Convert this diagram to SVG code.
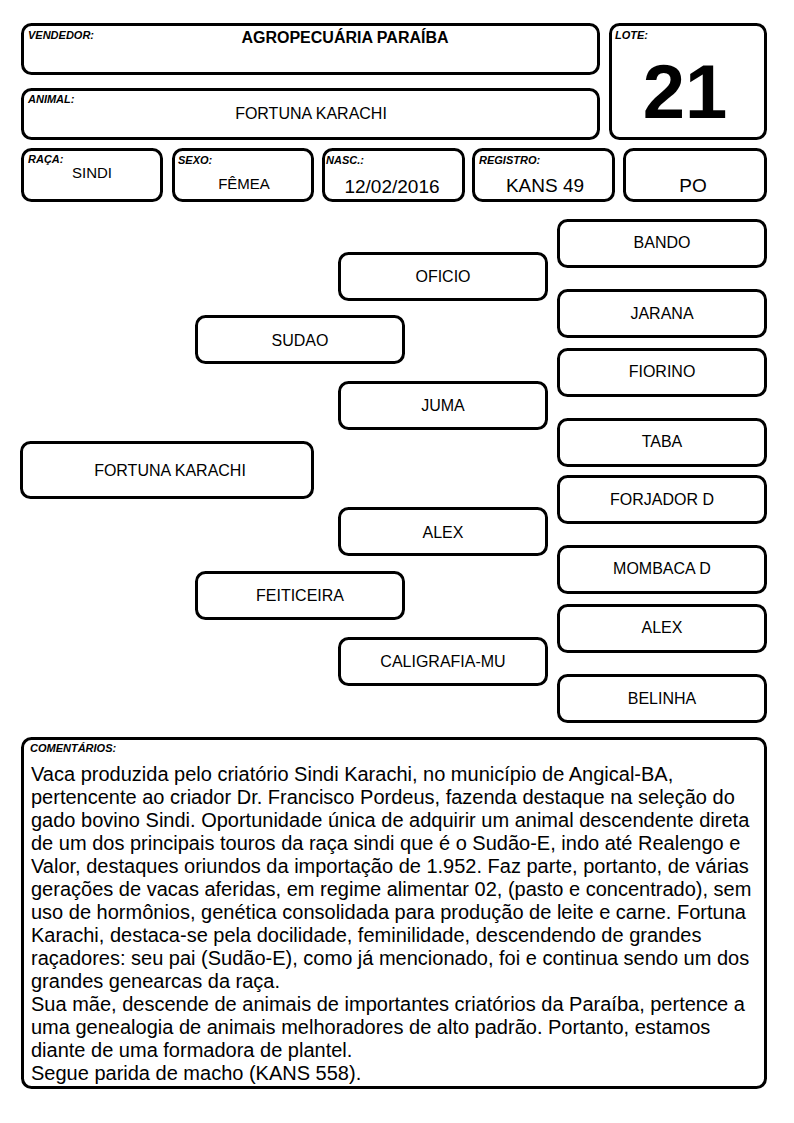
<svg xmlns="http://www.w3.org/2000/svg" width="794" height="1123" viewBox="0 0 794 1123">
<style>
  .box { fill: #ffffff; stroke: #000000; stroke-width: 3; }
  .lbl { font-family: "Liberation Sans", Arial, sans-serif; font-size: 11px; font-weight: bold; font-style: italic; fill: #000; }
  .val { font-family: "Liberation Sans", Arial, sans-serif; font-size: 16px; fill: #000; text-anchor: middle; }
  .val19 { font-family: "Liberation Sans", Arial, sans-serif; font-size: 19px; fill: #000; text-anchor: middle; }
  .ped { font-family: "Liberation Sans", Arial, sans-serif; font-size: 16px; fill: #000; text-anchor: middle; }
  .com { font-family: "Liberation Sans", Arial, sans-serif; font-size: 20px; fill: #000; }
</style>
<rect x="0" y="0" width="794" height="1123" fill="#ffffff"/>

<g id="vendedor">
  <rect class="box" x="22.5" y="24.5" width="576" height="49" rx="9"/>
  <text class="lbl" x="28" y="39">VENDEDOR:</text>
  <text x="345" y="43" font-family="Liberation Sans, Arial, sans-serif" font-size="16" font-weight="bold" text-anchor="middle">AGROPECUÁRIA PARAÍBA</text>
</g>
<g id="animal">
  <rect class="box" x="22.5" y="89.5" width="576" height="49" rx="9"/>
  <text class="lbl" x="28" y="103">ANIMAL:</text>
  <text class="val" x="311" y="119">FORTUNA KARACHI</text>
</g>
<g id="lote">
  <rect class="box" x="610.5" y="24.5" width="155" height="114" rx="9"/>
  <text class="lbl" x="615" y="39">LOTE:</text>
  <text x="685" y="118" font-family="Liberation Sans, Arial, sans-serif" font-size="76" font-weight="bold" text-anchor="middle">21</text>
</g>
<g id="raca">
  <rect class="box" x="22.5" y="149.5" width="139" height="51" rx="9"/>
  <text class="lbl" x="28" y="163">RAÇA:</text>
  <text x="92" y="178" font-family="Liberation Sans, Arial, sans-serif" font-size="15" text-anchor="middle">SINDI</text>
</g>
<g id="sexo">
  <rect class="box" x="173.5" y="149.5" width="139" height="51" rx="9"/>
  <text class="lbl" x="178" y="164">SEXO:</text>
  <text x="244" y="189" font-family="Liberation Sans, Arial, sans-serif" font-size="15" text-anchor="middle">FÊMEA</text>
</g>
<g id="nasc">
  <rect class="box" x="323.5" y="149.5" width="140" height="51" rx="9"/>
  <text class="lbl" x="326" y="164">NASC.:</text>
  <text class="val19" x="392" y="193">12/02/2016</text>
</g>
<g id="registro">
  <rect class="box" x="473.5" y="149.5" width="140" height="51" rx="9"/>
  <text class="lbl" x="479" y="164">REGISTRO:</text>
  <text class="val19" x="545" y="192">KANS 49</text>
</g>
<g id="po">
  <rect class="box" x="624.5" y="149.5" width="141" height="51" rx="9"/>
  <text class="val19" x="693" y="192">PO</text>
</g>

<g id="connectors"></g>

<g id="n-fortuna">
  <rect class="box" x="21.5" y="442.5" width="291" height="55" rx="9"/>
  <text class="ped" x="170" y="476">FORTUNA KARACHI</text>
</g>
<g id="n-sudao">
  <rect class="box" x="196.5" y="316.5" width="207" height="46" rx="9"/>
  <text class="ped" x="300" y="346">SUDAO</text>
</g>
<g id="n-feiticeira">
  <rect class="box" x="196.5" y="572.5" width="207" height="46" rx="9"/>
  <text class="ped" x="300" y="601">FEITICEIRA</text>
</g>
<g id="n-oficio">
  <rect class="box" x="339.5" y="253.5" width="207" height="46" rx="9"/>
  <text class="ped" x="443" y="282">OFICIO</text>
</g>
<g id="n-juma">
  <rect class="box" x="339.5" y="382.5" width="207" height="46" rx="9"/>
  <text class="ped" x="443" y="411">JUMA</text>
</g>
<g id="n-alex1">
  <rect class="box" x="339.5" y="508.5" width="207" height="46" rx="9"/>
  <text class="ped" x="443" y="538">ALEX</text>
</g>
<g id="n-caligrafia">
  <rect class="box" x="339.5" y="638.5" width="207" height="46" rx="9"/>
  <text class="ped" x="443" y="667">CALIGRAFIA-MU</text>
</g>
<g id="n-bando">
  <rect class="box" x="558.5" y="220.5" width="207" height="46" rx="9"/>
  <text class="ped" x="662" y="248">BANDO</text>
</g>
<g id="n-jarana">
  <rect class="box" x="558.5" y="290.5" width="207" height="46" rx="9"/>
  <text class="ped" x="662" y="319">JARANA</text>
</g>
<g id="n-fiorino">
  <rect class="box" x="558.5" y="349.5" width="207" height="46" rx="9"/>
  <text class="ped" x="662" y="377">FIORINO</text>
</g>
<g id="n-taba">
  <rect class="box" x="558.5" y="419.5" width="207" height="46" rx="9"/>
  <text class="ped" x="662" y="447">TABA</text>
</g>
<g id="n-forjador">
  <rect class="box" x="558.5" y="476.5" width="207" height="46" rx="9"/>
  <text class="ped" x="662" y="505">FORJADOR D</text>
</g>
<g id="n-mombaca">
  <rect class="box" x="558.5" y="546.5" width="207" height="46" rx="9"/>
  <text class="ped" x="662" y="574">MOMBACA D</text>
</g>
<g id="n-alex2">
  <rect class="box" x="558.5" y="605.5" width="207" height="46" rx="9"/>
  <text class="ped" x="662" y="633">ALEX</text>
</g>
<g id="n-belinha">
  <rect class="box" x="558.5" y="675.5" width="207" height="46" rx="9"/>
  <text class="ped" x="662" y="704">BELINHA</text>
</g>

<g id="comentarios">
  <rect class="box" x="22.5" y="738.5" width="743" height="349" rx="9"/>
  <text class="lbl" x="30" y="752">COMENTÁRIOS:</text>
  <text class="com" x="31" y="781">Vaca produzida pelo criatório Sindi Karachi, no município de Angical-BA,</text>
  <text class="com" x="31" y="804">pertencente ao criador Dr. Francisco Pordeus, fazenda destaque na seleção do</text>
  <text class="com" x="31" y="827">gado bovino Sindi. Oportunidade única de adquirir um animal descendente direta</text>
  <text class="com" x="31" y="850">de um dos principais touros da raça sindi que é o Sudão-E, indo até Realengo e</text>
  <text class="com" x="31" y="873">Valor, destaques oriundos da importação de 1.952. Faz parte, portanto, de várias</text>
  <text class="com" x="31" y="896">gerações de vacas aferidas, em regime alimentar 02, (pasto e concentrado), sem</text>
  <text class="com" x="31" y="919">uso de hormônios, genética consolidada para produção de leite e carne. Fortuna</text>
  <text class="com" x="31" y="942">Karachi, destaca-se pela docilidade, feminilidade, descendendo de grandes</text>
  <text class="com" x="31" y="965">raçadores: seu pai (Sudão-E), como já mencionado, foi e continua sendo um dos</text>
  <text class="com" x="31" y="988">grandes genearcas da raça.</text>
  <text class="com" x="31" y="1011">Sua mãe, descende de animais de importantes criatórios da Paraíba, pertence a</text>
  <text class="com" x="31" y="1034">uma genealogia de animais melhoradores de alto padrão. Portanto, estamos</text>
  <text class="com" x="31" y="1057">diante de uma formadora de plantel.</text>
  <text class="com" x="31" y="1080">Segue parida de macho (KANS 558).</text>
</g>
</svg>
